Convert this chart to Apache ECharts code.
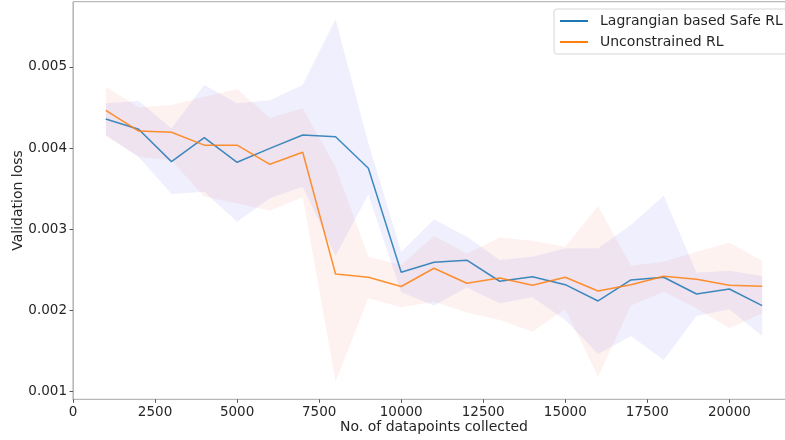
<!DOCTYPE html>
<html>
<head>
<meta charset="utf-8">
<script src="https://cdn.jsdelivr.net/npm/echarts@6/dist/echarts.min.js"></script>
<style>
html,body{margin:0;padding:0;background:#fff;}
#chart{width:785px;height:440px;}
</style>
</head>
<body>
<div id="chart"></div>
<script>
// x positions (no. of datapoints collected)
const xValues = [1000,2000,3000,4000,5000,6000,7000,8000,9000,10000,11000,12000,13000,14000,15000,16000,17000,18000,19000,20000,21000];
// Lagrangian based Safe RL (values x 1e-3)
const safeMean  = [4.358,4.232,3.833,4.128,3.825,3.997,4.161,4.140,3.751,2.470,2.594,2.620,2.360,2.416,2.318,2.117,2.376,2.409,2.203,2.265,2.059];
const safeUpper = [4.552,4.580,4.244,4.777,4.552,4.590,4.777,5.586,4.060,2.720,3.120,2.909,2.622,2.663,2.766,2.766,3.053,3.414,2.466,2.490,2.425];
const safeLower = [4.160,3.894,3.435,3.463,3.094,3.382,3.525,2.671,3.430,2.225,2.060,2.283,2.089,2.163,1.883,1.464,1.686,1.390,1.932,2.015,1.686];
// Unconstrained RL (values x 1e-3)
const unconMean  = [4.465,4.210,4.195,4.036,4.036,3.800,3.948,2.449,2.409,2.295,2.520,2.335,2.400,2.310,2.409,2.240,2.318,2.421,2.384,2.310,2.298];
const unconUpper = [4.756,4.503,4.530,4.633,4.728,4.370,4.490,3.770,2.663,2.560,2.920,2.700,2.900,2.860,2.786,3.287,2.552,2.601,2.724,2.835,2.613];
const unconLower = [4.150,3.890,3.850,3.400,3.320,3.229,3.394,1.123,2.150,2.040,2.108,1.975,1.883,1.739,2.015,1.185,2.060,2.232,2.027,1.780,1.965];
// tick labels
const xTicks = [0,2500,5000,7500,10000,12500,15000,17500,20000];
const yTicks = [0.001,0.002,0.003,0.004,0.005];
const yTickLabels = ['0.001','0.002','0.003','0.004','0.005'];
const seriesNames = ['Lagrangian based Safe RL','Unconstrained RL'];

const S = 1e-3;
const pts = (arr) => xValues.map((x, i) => [x, arr[i] * S]);

const FONT = 'DejaVu Sans';
const chart = echarts.init(document.getElementById('chart'), null, {renderer: 'canvas'});

function bandSeries(name, lo, up, color) {
  return {
    name: name, type: 'custom', silent: true, z: 1,
    data: [[xValues[0], lo[0] * S]],
    renderItem: function (params, api) {
      const poly = [];
      for (let i = 0; i < xValues.length; i++) poly.push(api.coord([xValues[i], up[i] * S]));
      for (let i = xValues.length - 1; i >= 0; i--) poly.push(api.coord([xValues[i], lo[i] * S]));
      return {type: 'polygon', shape: {points: poly}, style: {fill: color, stroke: null}};
    }
  };
}

const option = {
  animation: false,
  backgroundColor: '#ffffff',
  grid: {
    left: 73, right: -10, top: 1.7, bottom: 40.7,
    outerBoundsMode: 'none', containLabel: false,
    show: true, borderColor: '#a8a8a8', borderWidth: 1, backgroundColor: 'transparent'
  },
  legend: {
    data: seriesNames,
    orient: 'vertical',
    left: 554, top: 9,
    padding: [5, 12, 5, 6],
    itemGap: 7,
    itemWidth: 28, itemHeight: 2,
    icon: 'rect',
    backgroundColor: '#fff',
    borderColor: '#d6d6d6', borderWidth: 1, borderRadius: 3,
    textStyle: {fontFamily: FONT, fontSize: 14, color: '#262626', padding: [0, 0, 0, 7]}
  },
  xAxis: {
    type: 'value', min: 0, max: 22000,
    name: 'No. of datapoints collected',
    nameLocation: 'middle', nameGap: 21, nameMoveOverlap: false,
    nameTextStyle: {fontFamily: FONT, fontSize: 14, color: '#262626'},
    axisLine: {show: true, lineStyle: {color: '#b8b8b8', width: 1}},
    axisTick: {show: true, length: 3.5, customValues: xTicks, lineStyle: {color: '#555'}},
    axisLabel: {
      customValues: xTicks, margin: 6,
      fontFamily: FONT, fontSize: 13.5, color: '#262626',
      formatter: (v) => String(v)
    },
    splitLine: {show: false}
  },
  yAxis: {
    type: 'value', min: 0.000906, max: 0.005803,
    name: 'Validation loss',
    nameLocation: 'middle', nameGap: 48, nameMoveOverlap: false,
    nameTextStyle: {fontFamily: FONT, fontSize: 14, color: '#262626'},
    axisLine: {show: true, lineStyle: {color: '#b8b8b8', width: 1}},
    axisTick: {show: true, length: 3.5, customValues: yTicks, lineStyle: {color: '#555'}},
    axisLabel: {
      customValues: yTicks, margin: 6,
      fontFamily: FONT, fontSize: 13.5, color: '#262626',
      formatter: (v) => {
        const i = yTicks.findIndex(t => Math.abs(t - v) < 1e-9);
        return i >= 0 ? yTickLabels[i] : '';
      }
    },
    splitLine: {show: false}
  },
  series: [
    bandSeries('safe band', safeLower, safeUpper, 'rgba(100,100,240,0.1)'),
    bandSeries('uncon band', unconLower, unconUpper, 'rgba(250,128,114,0.1)'),
    {
      name: seriesNames[0], type: 'line', data: pts(safeMean), symbol: 'none',
      color: '#1f77b4',
      lineStyle: {color: '#1f77b4', width: 1.5, opacity: 0.85}, z: 3
    },
    {
      name: seriesNames[1], type: 'line', data: pts(unconMean), symbol: 'none',
      color: '#ff7f0e',
      lineStyle: {color: '#ff7f0e', width: 1.5, opacity: 0.85}, z: 3
    }
  ]
};
chart.setOption(option);
</script>
</body>
</html>
